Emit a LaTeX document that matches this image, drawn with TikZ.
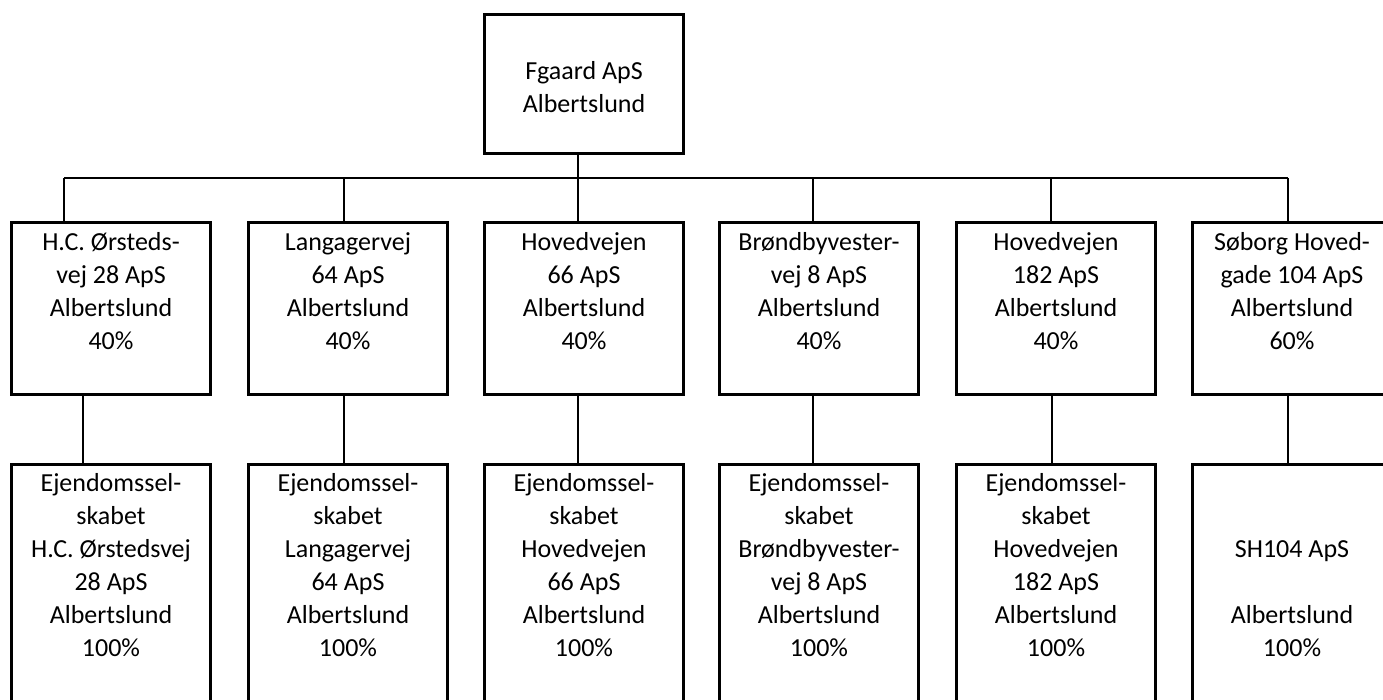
\documentclass[tikz,border=0pt]{standalone}
\usepackage{fontspec}
\setmainfont{Carlito}
\usepackage{tikz}

% text set from the top of a box: height, first baseline, lines
\newcommand{\boxtext}[3]{\parbox[t][#1][t]{199pt}{\centering\rule{0pt}{#2}#3}}

\begin{document}
\begin{tikzpicture}[x=1pt, y=-1pt,
	every node/.style={font=\fontsize{26}{33}\selectfont},
	box/.style={draw, line width=3pt, inner sep=0pt, anchor=north west},
	link/.style={line width=1.5pt}]
	\useasboundingbox (0,0) rectangle (1383,700);
	% owner
	\node[box] (top) at (483,13) {\boxtext{139pt}{32pt}{~\\Fgaard ApS\\Albertslund}};
	% first row
	\node[box] (b1) at (10,221) {\boxtext{172pt}{28pt}{H.C. Ørsteds-\\vej 28 ApS\\Albertslund\\40\%}};
	\node[box] (b2) at (247,221) {\boxtext{172pt}{28pt}{Langagervej\\64 ApS\\Albertslund\\40\%}};
	\node[box] (b3) at (483,221) {\boxtext{172pt}{28pt}{Hovedvejen\\66 ApS\\Albertslund\\40\%}};
	\node[box] (b4) at (718,221) {\boxtext{172pt}{28pt}{Brøndbyvester-\\vej 8 ApS\\Albertslund\\40\%}};
	\node[box] (b5) at (955,221) {\boxtext{172pt}{28pt}{Hovedvejen\\182 ApS\\Albertslund\\40\%}};
	\node[box] (b6) at (1191,221) {\boxtext{172pt}{28pt}{Søborg Hoved-\\gade 104 ApS\\Albertslund\\60\%}};
	% second row
	\node[box] (c1) at (10,463) {\boxtext{247pt}{27pt}{Ejendomssel-\\skabet\\H.C. Ørstedsvej\\28 ApS\\Albertslund\\100\%}};
	\node[box] (c2) at (247,463) {\boxtext{247pt}{27pt}{Ejendomssel-\\skabet\\Langagervej\\64 ApS\\Albertslund\\100\%}};
	\node[box] (c3) at (483,463) {\boxtext{247pt}{27pt}{Ejendomssel-\\skabet\\Hovedvejen\\66 ApS\\Albertslund\\100\%}};
	\node[box] (c4) at (718,463) {\boxtext{247pt}{27pt}{Ejendomssel-\\skabet\\Brøndbyvester-\\vej 8 ApS\\Albertslund\\100\%}};
	\node[box] (c5) at (955,463) {\boxtext{247pt}{27pt}{Ejendomssel-\\skabet\\Hovedvejen\\182 ApS\\Albertslund\\100\%}};
	\node[box] (c6) at (1191,463) {\boxtext{247pt}{27pt}{~\\~\\SH104 ApS\\~\\Albertslund\\100\%}};
	% connectors
	\foreach \i/\xa/\xb in {1/64/83, 2/344/344, 3/578/578, 4/813/813, 5/1051/1052, 6/1288/1288} {
		\coordinate (j\i) at (\xa,178);
		\coordinate (d\i) at (\xb,0);
		\draw[link] (j\i) -- (j\i |- b\i.north);
		\draw[link] (d\i |- b\i.south) -- (d\i |- c\i.north);
	}
	\draw[link] (j1) -- (j6);
	\draw[link] (j3 |- top.south) -- (j3);
\end{tikzpicture}
\end{document}
